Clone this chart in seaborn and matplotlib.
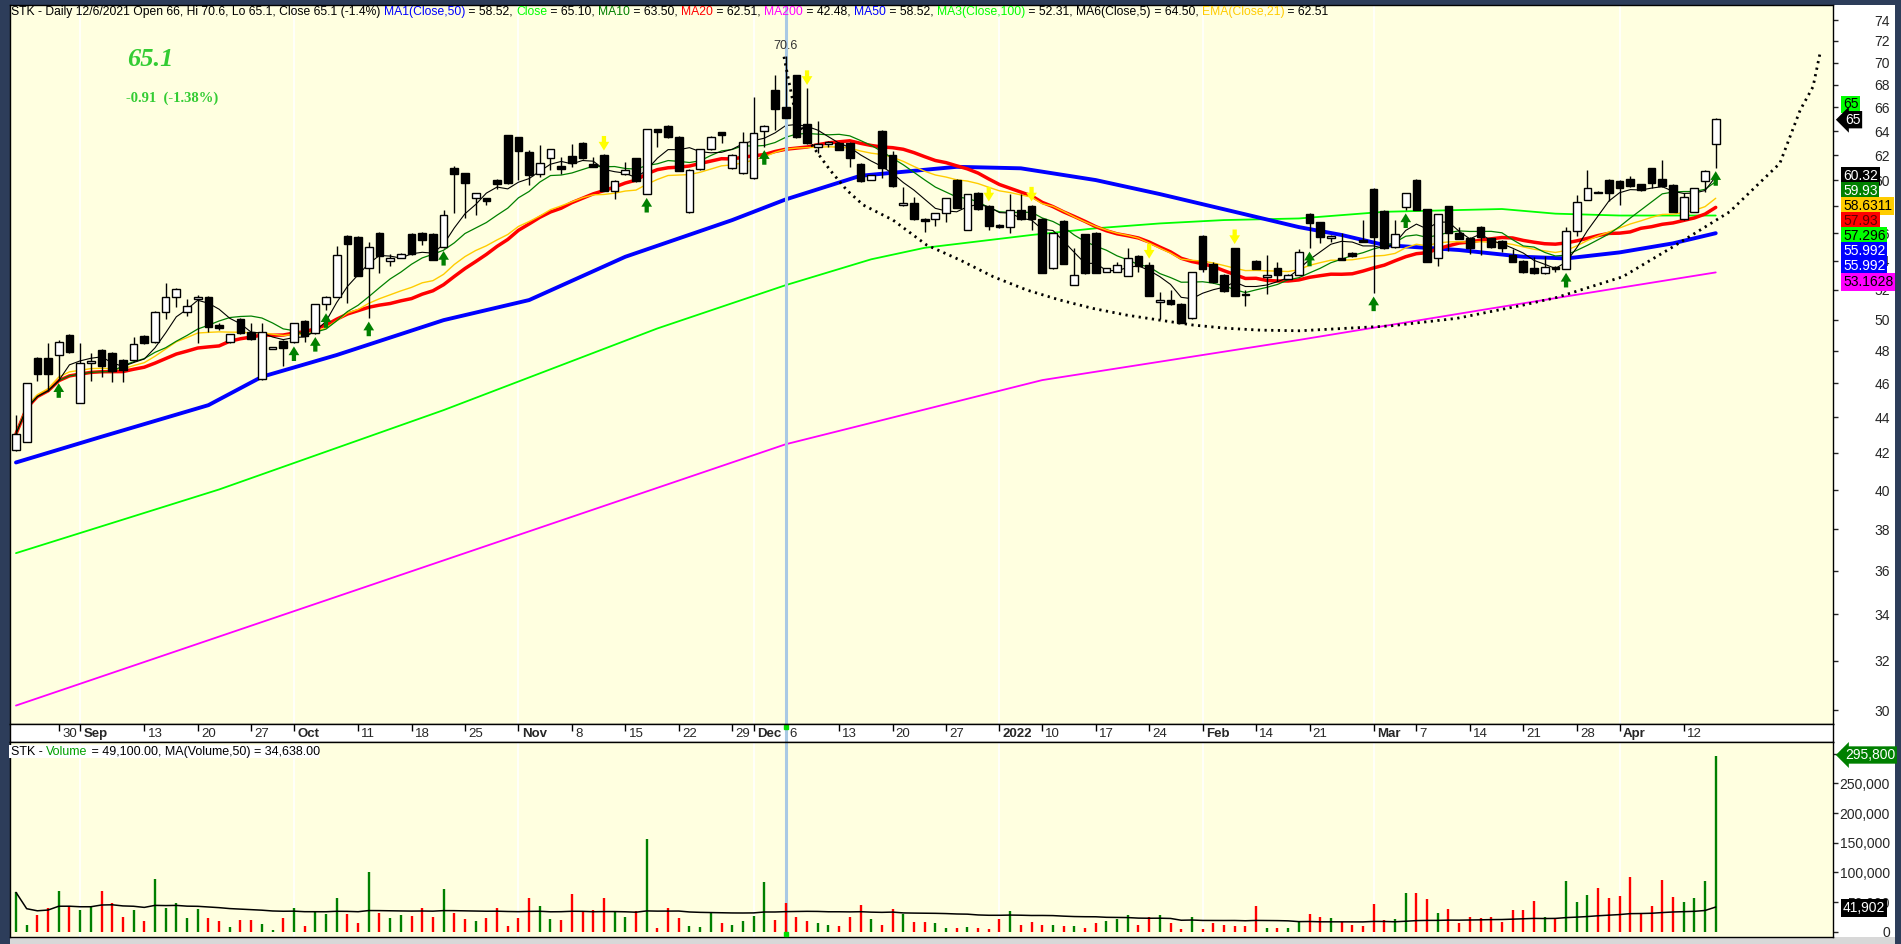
import numpy as np
import pandas as pd
import matplotlib
matplotlib.use("Agg")
import matplotlib.pyplot as plt
import seaborn as sns
from matplotlib.patches import Rectangle
from matplotlib.ticker import FuncFormatter, NullLocator
from matplotlib.font_manager import FontProperties

W, H = 1901, 944

# daily OHLC, one value per session
opens = [42.18, 42.63, 47.55, 47.55, 47.74, 49.00, 44.84, 47.24, 48.07, 47.86,
         47.44, 47.40, 48.95, 48.55, 50.50, 51.49, 50.50, 51.40, 51.49, 49.65,
         48.55, 50.04, 49.17, 46.26, 48.11, 48.64, 48.55, 49.92, 49.13, 51.05,
         51.53, 55.79, 55.69, 53.49, 55.99, 53.98, 54.21, 55.94, 55.99, 55.94,
         54.97, 61.00, 60.56, 58.61, 58.61, 60.03, 63.66, 63.47, 62.29, 60.50,
         61.76, 61.14, 61.94, 62.98, 61.30, 62.02, 59.20, 60.50, 61.76, 58.94,
         64.14, 64.42, 63.47, 57.59, 60.88, 62.49, 63.89, 60.96, 60.56, 60.16,
         63.97, 67.52, 66.00, 68.86, 64.57, 62.65, 62.90, 63.03, 62.98, 61.30,
         60.03, 64.00, 62.02, 58.06, 58.23, 57.04, 57.04, 57.47, 60.03, 56.23,
         59.05, 58.02, 56.60, 56.48, 57.72, 58.02, 57.04, 53.49, 56.90, 52.32,
         55.90, 55.99, 53.21, 53.21, 52.97, 54.35, 53.72, 51.20, 51.31, 51.05,
         50.10, 55.79, 53.79, 53.02, 54.90, 51.72, 54.00, 52.90, 53.49, 52.72,
         53.02, 57.42, 56.80, 55.62, 54.19, 54.54, 55.50, 59.33, 57.64, 54.97,
         57.98, 60.03, 57.77, 54.19, 58.02, 56.03, 55.67, 56.48, 55.62, 55.43,
         54.42, 54.00, 53.49, 53.14, 53.60, 53.42, 56.18, 58.48, 59.10, 60.03,
         59.97, 60.08, 59.69, 60.96, 60.11, 59.64, 57.02, 57.59, 59.97, 62.90]
highs = [44.15, 46.02, 47.60, 48.49, 48.70, 49.05, 48.49, 47.86, 48.10, 47.90,
         47.50, 48.87, 49.00, 50.55, 52.49, 52.10, 51.36, 51.64, 51.55, 49.80,
         49.10, 50.10, 49.81, 49.77, 48.24, 48.70, 49.80, 49.95, 51.05, 51.55,
         55.07, 55.85, 55.75, 55.38, 56.05, 54.49, 54.55, 56.00, 56.05, 56.00,
         57.72, 61.14, 60.60, 59.05, 58.65, 60.10, 63.70, 63.50, 62.43, 62.84,
         62.55, 61.89, 62.90, 63.05, 61.84, 62.10, 60.05, 61.43, 61.80, 64.20,
         64.20, 64.50, 63.55, 60.90, 62.55, 63.55, 63.95, 62.10, 63.95, 66.90,
         64.50, 68.86, 70.60, 68.90, 67.67, 64.85, 63.15, 63.10, 63.05, 61.35,
         60.45, 64.05, 62.37, 59.51, 58.69, 57.10, 57.50, 58.65, 60.10, 58.95,
         59.10, 58.10, 56.65, 58.94, 58.94, 58.10, 57.10, 56.00, 56.95, 54.90,
         55.95, 56.05, 53.50, 53.89, 54.90, 54.40, 53.91, 51.83, 51.99, 51.10,
         53.25, 55.85, 53.89, 53.10, 54.95, 51.99, 54.05, 54.42, 53.91, 53.05,
         54.85, 57.50, 56.85, 55.85, 55.99, 54.60, 56.97, 59.40, 57.70, 56.97,
         59.05, 60.10, 57.80, 57.45, 58.05, 56.48, 55.70, 56.50, 55.65, 55.50,
         54.85, 54.05, 54.30, 54.37, 53.65, 56.48, 58.86, 60.82, 59.20, 60.10,
         60.00, 60.36, 59.75, 61.00, 61.62, 59.70, 59.00, 59.40, 60.80, 65.10]
lows = [42.10, 42.60, 46.12, 45.52, 46.22, 47.85, 44.84, 46.12, 46.38, 46.06,
        46.06, 47.38, 48.45, 48.50, 50.04, 50.83, 50.25, 48.49, 49.23, 49.35,
        48.50, 49.10, 48.70, 46.20, 48.11, 47.09, 48.50, 48.59, 49.10, 50.65,
        51.50, 51.09, 52.95, 50.10, 53.18, 53.67, 54.20, 54.45, 55.14, 54.05,
        54.95, 57.52, 57.10, 57.34, 58.10, 59.30, 59.70, 60.03, 59.64, 60.29,
        60.82, 60.50, 61.03, 61.70, 61.03, 59.15, 58.53, 60.45, 59.90, 58.90,
        62.70, 63.40, 60.70, 57.50, 60.80, 62.45, 63.03, 60.90, 60.50, 60.10,
        62.70, 64.08, 65.10, 63.45, 62.90, 62.16, 62.70, 62.40, 61.03, 59.90,
        60.00, 60.16, 59.50, 58.00, 57.00, 56.06, 56.53, 56.84, 57.85, 56.20,
        57.70, 56.23, 56.40, 56.03, 57.00, 56.23, 53.15, 53.45, 53.75, 52.30,
        53.10, 53.15, 53.20, 53.20, 52.95, 53.25, 51.55, 50.06, 51.00, 49.80,
        50.05, 53.25, 52.45, 51.85, 51.55, 50.87, 53.40, 51.72, 52.60, 52.70,
        53.00, 54.90, 55.26, 55.38, 54.05, 54.30, 55.35, 51.77, 54.85, 54.95,
        57.72, 57.70, 53.90, 53.67, 54.73, 55.55, 54.49, 54.42, 54.95, 54.66,
        53.90, 53.18, 53.10, 53.07, 53.25, 53.40, 55.81, 58.45, 59.00, 58.40,
        58.10, 59.50, 59.20, 59.38, 59.50, 57.55, 57.00, 57.55, 59.07, 61.00]
closes = [43.06, 46.02, 46.57, 46.58, 48.59, 47.90, 47.24, 47.38, 47.03, 46.73,
          46.79, 48.43, 48.49, 50.50, 51.49, 52.04, 50.91, 51.49, 49.52, 49.49,
          49.04, 49.13, 48.76, 49.23, 48.24, 48.21, 49.77, 48.97, 51.03, 51.49,
          54.42, 55.19, 52.97, 54.97, 54.37, 54.19, 54.49, 54.49, 55.50, 54.07,
          57.34, 60.48, 59.77, 59.00, 58.43, 59.69, 59.77, 62.37, 60.42, 61.35,
          62.49, 60.88, 61.40, 61.76, 61.08, 59.20, 59.97, 60.82, 59.97, 64.14,
          63.91, 63.47, 60.76, 60.82, 62.49, 63.47, 63.66, 62.02, 63.06, 63.80,
          64.45, 65.87, 65.10, 63.52, 62.98, 62.90, 63.11, 62.43, 61.76, 59.97,
          60.40, 60.96, 59.58, 58.23, 57.02, 56.90, 57.47, 58.61, 57.90, 58.94,
          57.77, 56.55, 56.43, 57.72, 57.04, 57.02, 53.18, 55.99, 53.79, 53.02,
          53.14, 53.18, 53.49, 53.70, 54.19, 53.67, 51.60, 51.31, 51.03, 49.81,
          53.21, 53.44, 52.51, 51.88, 51.60, 51.66, 53.44, 53.02, 53.02, 53.02,
          54.62, 56.77, 55.74, 55.79, 54.07, 54.35, 55.38, 55.74, 54.90, 55.94,
          59.00, 57.72, 53.95, 57.40, 56.00, 55.57, 54.95, 55.74, 54.97, 54.90,
          53.95, 53.21, 53.14, 53.60, 53.42, 56.18, 58.35, 59.38, 59.05, 59.00,
          59.38, 59.56, 59.25, 59.77, 59.56, 57.59, 58.73, 59.38, 60.76, 65.00]
volumes = [66300, 11200, 28100, 40400, 68500, 43200, 36500, 42100, 68500, 48900,
           24100, 36500, 18000, 88700, 39300, 48900, 22500, 38200, 22500, 18000,
           7300, 19700, 19700, 12900, 2800, 22500, 39300, 9500, 34800, 29800,
           57300, 29800, 15200, 99900, 32000, 22500, 28100, 26400, 40400, 24100,
           71900, 32000, 21300, 18500, 22500, 39300, 9500, 22500, 56200, 43200,
           21300, 19700, 63400, 34800, 36500, 57300, 34800, 24100, 34800, 156100,
           6700, 39300, 22500, 9500, 7300, 32600, 15200, 11200, 18500, 26400,
           84200, 19700, 49100, 24100, 18000, 14000, 11200, 9500, 24100, 44900,
           21300, 11200, 38200, 29800, 16800, 16800, 14000, 5600, 6700, 8400,
           5600, 4500, 21300, 34800, 11200, 16800, 11200, 11200, 9500, 9500,
           6700, 15200, 18500, 21300, 28100, 11200, 24100, 28100, 14000, 4500,
           24700, 4500, 15200, 11200, 9500, 9500, 43200, 6700, 6700, 6700,
           18000, 29800, 25300, 22500, 16800, 11200, 9500, 46600, 19700, 21300,
           65700, 65700, 55000, 32000, 38200, 14000, 24100, 22500, 25300, 16800,
           36500, 36500, 51700, 24700, 20800, 85300, 50500, 61800, 74100, 57300,
           60600, 92600, 29200, 43800, 87000, 59000, 50500, 57300, 85300, 295800]

# date axis labels (bar number, text)
tick_bars = [4, 6, 12, 17, 22, 26, 32, 37, 42, 47, 52, 57, 62, 67, 69, 72, 77, 82,
             87, 92, 96, 101, 106, 111, 116, 121, 127, 131, 136, 141, 146, 150, 156]
tick_text = ["30", "Sep", "13", "20", "27", "Oct", "11", "18", "25", "Nov", "8", "15",
             "22", "29", "Dec", "6", "13", "20", "27", "2022", "10", "17", "24", "Feb",
             "14", "21", "Mar", "7", "14", "21", "28", "Apr", "12"]
month_text = {"Sep", "Oct", "Nov", "Dec", "2022", "Feb", "Mar", "Apr"}

ma50_bars = [0, 8, 18, 23, 30, 40, 48, 57, 67, 72, 79, 88, 94, 101, 107, 113, 120,
             124, 128, 135, 141, 145, 150, 155, 159]
ma50_vals = [41.48, 42.90, 44.71, 46.40, 47.74, 49.97, 51.30, 54.29, 56.96, 58.52,
             60.36, 61.07, 60.95, 60.02, 58.93, 57.77, 56.44, 55.86, 55.13, 54.77,
             54.29, 54.17, 54.60, 55.25, 55.99]
ma100_bars = [0, 19, 40, 60, 72, 80, 85, 95, 101, 107, 113, 120, 128, 139, 144, 150, 159]
ma100_vals = [36.84, 40.04, 44.42, 49.43, 52.31, 54.11, 54.93, 55.86, 56.35, 56.71,
              56.96, 57.08, 57.58, 57.79, 57.44, 57.30, 57.30]
ma200_bars = [0, 72, 96, 120, 138, 159]
ma200_vals = [30.18, 42.48, 46.20, 48.69, 50.74, 53.19]

# hand-drawn cup outline
cup_bars = [71.84, 72.4, 73.03, 74.56, 76.15, 77.71, 79.26, 82.04, 85.19, 88.31, 91.42,
            94.55, 97.66, 100.75, 103.9, 107.0, 110.1, 113.25, 116.4, 120.1, 128.5,
            134.8, 140.97, 144.15, 150.3, 155.0, 160.3, 165.0, 166.9, 168.1, 168.76]
cup_vals = [70.53, 67.81, 64.92, 62.69, 60.81, 59.24, 58.09, 56.96, 55.13, 54.06, 52.89,
            51.98, 51.30, 50.74, 50.30, 49.97, 49.65, 49.44, 49.32, 49.28, 49.59,
            50.09, 50.96, 51.48, 52.89, 55.00, 57.58, 61.35, 65.78, 67.81, 70.87]

up_arrow_bars = [4, 26, 28, 29, 33, 40, 59, 70, 121, 127, 130, 145, 159]
down_arrow_bars = [55, 74, 91, 95, 106, 114]

cursor_bar = 72

o = np.array(opens); h = np.array(highs); l = np.array(lows); c = np.array(closes)
v = np.array(volumes)
n = len(c)
x = np.arange(n)
s = pd.Series(c)
ma = pd.DataFrame({
    "x": x,
    "ma5": s.rolling(5, min_periods=1).mean(),
    "ma10": s.rolling(10, min_periods=1).mean(),
    "ma20": s.rolling(20, min_periods=1).mean(),
    "ema21": s.ewm(span=21, adjust=True).mean(),
    "vma": pd.Series(v).rolling(50, min_periods=1).mean(),
})

sns.set_style("white")
plt.rcParams["font.family"] = ["Liberation Sans", "DejaVu Sans"]
NARROW = ["Liberation Sans Narrow", "Liberation Sans", "DejaVu Sans"]

CREAM = "#FFFFE0"
NAVY = "#2D3D5A"

fig = plt.figure(figsize=(W / 100, H / 100), dpi=100, facecolor=NAVY)


def box(x0, y0, x1, y1):
    return [x0 / W, 1 - y1 / H, (x1 - x0) / W, (y1 - y0) / H]


fig.add_artist(Rectangle((10 / W, 1 - 937 / H), 1885 / W, 932 / H,
                         transform=fig.transFigure, fc="white", ec="none", zorder=-2))
fig.add_artist(Rectangle((10 / W, 0), 1885 / W, 7 / H,
                         transform=fig.transFigure, fc="#D8D8D8", ec="none", zorder=-1))

ax = fig.add_axes(box(10, 5, 1833, 724), facecolor=CREAM)
axd = fig.add_axes(box(10, 724, 1833, 742), facecolor="white")
axv = fig.add_axes(box(10, 742, 1833, 937), facecolor=CREAM)

xlim = (-0.56, 169.97)
for a in (ax, axd, axv):
    a.set_xlim(*xlim)
    for sp in a.spines.values():
        sp.set_color("black")
        sp.set_linewidth(1)
    a.tick_params(axis="x", bottom=False, labelbottom=False)

# month separators
for b, t in zip(tick_bars, tick_text):
    if t in month_text:
        ax.axvline(b, color="white", lw=1.2, zorder=0.5)
        axv.axvline(b, color="white", lw=1.2, zorder=0.5)

# ---- price panel ----
ax.set_yscale("log")
ax.set_ylim(29.46, 75.47)
ax.yaxis.tick_right()
ax.yaxis.set_minor_locator(NullLocator())
ax.set_yticks(list(range(30, 76, 2)))
ax.yaxis.set_major_formatter(FuncFormatter(lambda val, pos: f"{val:.0f}"))
ax.tick_params(axis="y", direction="out", length=3.6, pad=37.5, labelsize=10, width=1)
for lbl in ax.get_yticklabels():
    lbl.set_horizontalalignment("right")

sns.lineplot(x=ma200_bars, y=ma200_vals, ax=ax, color="#FF00FF", lw=1.3, zorder=2)
sns.lineplot(x=ma100_bars, y=ma100_vals, ax=ax, color="#00FF00", lw=1.3, zorder=2)
sns.lineplot(x=ma50_bars, y=ma50_vals, ax=ax, color="#0000FF", lw=2.8, zorder=2)
sns.lineplot(data=ma, x="x", y="ma20", ax=ax, color="#FF0000", lw=2.5, zorder=2.1)
sns.lineplot(data=ma, x="x", y="ema21", ax=ax, color="#FFCC00", lw=1.0, zorder=2.1)
sns.lineplot(data=ma, x="x", y="ma10", ax=ax, color="#008000", lw=0.9, zorder=2.2)
sns.lineplot(data=ma, x="x", y="ma5", ax=ax, color="black", lw=0.8, zorder=2.2)
ax.plot(cup_bars, cup_vals, color="black", lw=2.0, ls=(0, (0.8, 1.6)), zorder=2.5)

up = c >= o
ax.vlines(x, l, h, color="black", lw=1.0, zorder=3)
ax.bar(x, np.abs(c - o), bottom=np.minimum(o, c), width=0.72,
       color=np.where(up, "white", "black"), edgecolor="black", linewidth=1.0, zorder=3.2)

arrow_style = "simple,head_length=0.45,head_width=0.55,tail_width=0.22"
for b in up_arrow_bars:
    ax.annotate("", xy=(b, l[b]), xytext=(0, -13), textcoords="offset points",
                arrowprops=dict(arrowstyle=arrow_style, fc="#008000", ec="none",
                                shrinkA=0, shrinkB=2.5, mutation_scale=14), zorder=4)
for b in down_arrow_bars:
    ax.annotate("", xy=(b, h[b]), xytext=(0, 13), textcoords="offset points",
                arrowprops=dict(arrowstyle=arrow_style, fc="#FFFF00", ec="none",
                                shrinkA=0, shrinkB=2.5, mutation_scale=14), zorder=4)

ax.axvline(cursor_bar, color="#A9C9E4", lw=2.2, zorder=2.4)
ax.annotate(f"{h[cursor_bar]:.1f}", xy=(cursor_bar, h[cursor_bar]), xytext=(0, 3),
            textcoords="offset points", ha="center", va="bottom", fontsize=9,
            color="#333333", zorder=5)

# ---- date strip ----
axd.set_ylim(0, 1)
axd.set_yticks([])
axd.vlines(tick_bars, 0.62, 1, color="black", lw=1)
for b, t in zip(tick_bars, tick_text):
    axd.text(b + 0.3, 0.42, t, ha="left", va="center", fontsize=9.5, family=NARROW,
             fontweight="bold" if t in month_text else "normal")
axd.axvline(cursor_bar, color="#A9C9E4", lw=2.2)
axd.plot([cursor_bar], [0.85], "s", color="#00DD00", ms=3.5)

# ---- volume panel ----
axv.set_ylim(-9000, 320000)
axv.yaxis.tick_right()
axv.set_yticks(list(range(0, 300001, 50000)))
axv.yaxis.set_major_formatter(FuncFormatter(lambda val, pos: f"{val:,.0f}"))
axv.tick_params(axis="y", direction="out", length=3.6, pad=37.5, labelsize=10, width=1)
for lbl in axv.get_yticklabels():
    lbl.set_horizontalalignment("right")
axv.vlines(x, 0, v, colors=np.where(up, "#008000", "#FF0000"), lw=1.7, zorder=2)
sns.lineplot(data=ma, x="x", y="vma", ax=axv, color="black", lw=1.1, zorder=3)
axv.axvline(cursor_bar, color="#A9C9E4", lw=2.2, zorder=1.5)
axv.plot([cursor_bar], [-4000], "s", color="#00DD00", ms=3.5, zorder=4)
for a in (ax, axv):
    a.set_xlabel("")
    a.set_ylabel("")

# ---- text overlays ----
fig.canvas.draw()
rend = fig.canvas.get_renderer()


def write_runs(x_px, y_px, runs, size, family):
    fp = FontProperties(family=family, size=size)
    w_ref = rend.get_text_width_height_descent("x", fp, ismath=False)[0]
    prefix = ""
    for txt, col in runs:
        off = rend.get_text_width_height_descent(prefix + "x", fp, ismath=False)[0] - w_ref
        fig.text((x_px + off) / W, 1 - y_px / H, txt, color=col, fontsize=size,
                 family=family, va="center", ha="left", zorder=6)
        prefix += txt


header = [
    ("STK - Daily 12/6/2021 Open 66, Hi 70.6, Lo 65.1, Close 65.1 (-1.4%) ", "black"),
    ("MA1(Close,50)", "#0000FF"), (" = 58.52, ", "black"),
    ("Close", "#00FF00"), (" = 65.10, ", "black"),
    ("MA10", "#008000"), (" = 63.50, ", "black"),
    ("MA20", "#FF0000"), (" = 62.51, ", "black"),
    ("MA200", "#FF00FF"), (" = 42.48, ", "black"),
    ("MA50", "#0000FF"), (" = 58.52, ", "black"),
    ("MA3(Close,100)", "#00FF00"), (" = 52.31, ", "black"),
    ("MA6(Close,5)", "black"), (" = 64.50, ", "black"),
    ("EMA(Close,21)", "#FFCC00"), (" = 62.51", "black"),
]
write_runs(11, 12, header, 8.7, NARROW)

fig.add_artist(Rectangle((9 / W, 1 - 758 / H), 310 / W, 13 / H, transform=fig.transFigure,
                         fc="white", ec="none", zorder=5))
write_runs(11, 752, [("STK - ", "black"), ("Volume", "#00A000"),
                     (" = 49,100.00, MA(Volume,50) = 34,638.00", "black")], 9.0, NARROW)

fig.text(127 / W, 1 - 59 / H, "65.1", color="#33CC33", fontsize=19,
         family=["Liberation Serif", "DejaVu Serif"], style="italic", fontweight="bold",
         va="center", ha="left")
fig.text(126 / W, 1 - 98 / H, "-0.91  (-1.38%)", color="#33CC33", fontsize=10.5,
         family=["Liberation Serif", "DejaVu Serif"], fontweight="bold", va="center", ha="left")

# last-value tags on the price scale
tags = [
    (104.5, "65", "#00FF00", "black"),
    (176.3, "60.32", "black", "white"),
    (191.3, "59.93", "#008000", "white"),
    (206.3, "58.6311", "#FFCC00", "black"),
    (221.3, "57.93", "#FF0000", "#600000"),
    (236.3, "57.296", "#00FF00", "black"),
    (251.3, "55.992", "#0000FF", "white"),
    (266.3, "55.992", "#0000FF", "white"),
    (282.0, "53.1628", "#FF00FF", "black"),
    (908.0, "41,902", "black", "white"),
]
for ypx, txt, fc, tc in tags:
    fig.text(1843 / W, 1 - ypx / H, txt, color=tc, fontsize=10, va="center", ha="left",
             bbox=dict(boxstyle="square,pad=0.14", fc=fc, ec="none"), zorder=7)
fig.text(1845 / W, 1 - 119.7 / H, "65", color="white", fontsize=10, va="center", ha="left",
         bbox=dict(boxstyle="larrow,pad=0.12", fc="black", ec="none"), zorder=7)
fig.text(1845 / W, 1 - 755 / H, "295,800", color="white", fontsize=10, va="center", ha="left",
         bbox=dict(boxstyle="larrow,pad=0.12", fc="#008000", ec="none"), zorder=7)

fig.savefig("out.png", dpi=100, facecolor=NAVY)
